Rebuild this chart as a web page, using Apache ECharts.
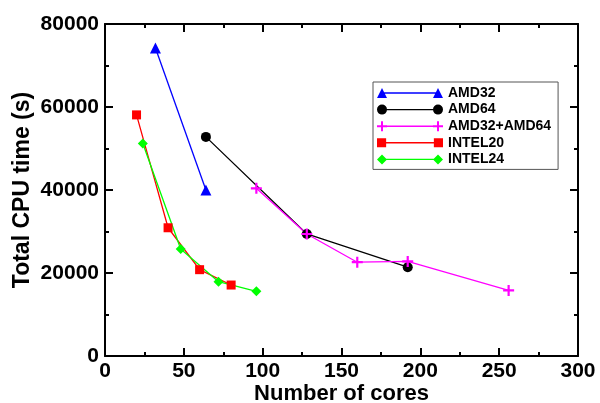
<!DOCTYPE html>
<html>
<head>
<meta charset="utf-8">
<script src="https://cdn.jsdelivr.net/npm/echarts@6/dist/echarts.min.js"></script>
<style>
  html, body { margin: 0; padding: 0; background: #fff; }
  #chart { width: 600px; height: 403px; }
</style>
</head>
<body>
<div id="chart"></div>
<script>
  // cores / total CPU time (s) per machine set
  const amd32Cores = [32, 64];
  const amd32Time = [74200, 40000];
  const amd64Cores = [64, 128, 192];
  const amd64Time = [52800, 29400, 21400];
  const mixCores = [96, 128, 160, 192, 256];
  const mixTime = [40400, 29400, 22600, 22800, 15800];
  const intel20Cores = [20, 40, 60, 80];
  const intel20Time = [58100, 30900, 20800, 17100];
  const intel24Cores = [24, 48, 72, 96];
  const intel24Time = [51200, 25800, 17900, 15600];

  const xTicks = [0, 50, 100, 150, 200, 250, 300];
  const yTicks = [0, 20000, 40000, 60000, 80000];

  const font = 'Liberation Sans, Arial, Helvetica, sans-serif';
  const pair = (xs, ys) => xs.map((x, i) => [x, ys[i]]);

  const plusPath = 'path://M4,0H6V4H10V6H6V10H4V6H0V4H4Z';
  const legendIcons = {
    tri: 'path://M0,10L5,0L10,10ZM5,4.3H61V5.7H5ZM56,10L61,0L66,10Z',
    circ: 'path://M0,5A5,5 0 1 1 10,5A5,5 0 1 1 0,5ZM5,4.3H61V5.7H5ZM56,5A5,5 0 1 1 66,5A5,5 0 1 1 56,5Z',
    plus: 'path://M4,0H6V4H10V6H6V10H4V6H0V4H4ZM5,4.3H61V5.7H5ZM60,0H62V4H66V6H62V10H60V6H56V4H60Z',
    sq: 'path://M0.5,0.5H9.5V9.5H0.5ZM5,4.3H61V5.7H5ZM56.5,0.5H65.5V9.5H56.5Z',
    dia: 'path://M0,5L5,0L10,5L5,10ZM5,4.3H61V5.7H5ZM56,5L61,0L66,5L61,10Z'
  };

  const tickStyle = { color: '#000', width: 2 };

  // major: labelled ticks every 50 / 20000; minor: short ticks every 25 / 10000
  function xAxisOf(pos, major) {
    const showLabel = major && pos === 'bottom';
    return {
      type: 'value', position: pos, min: 0, max: 300, interval: major ? 50 : 25,
      name: showLabel ? 'Number of cores' : '',
      nameLocation: 'middle', nameGap: 27, nameMoveOverlap: false,
      nameTextStyle: { fontFamily: font, fontWeight: 'bold', fontSize: 22, color: '#000' },
      axisLine: { show: major, onZero: false, lineStyle: { color: '#000', width: 2 } },
      axisTick: { show: true, inside: true, length: major ? 8 : 4, lineStyle: tickStyle },
      axisLabel: { show: showLabel, fontFamily: font, fontWeight: 'bold', fontSize: 21, color: '#000', margin: 5,
        formatter: v => xTicks.includes(v) ? String(v) : '' },
      splitLine: { show: false }
    };
  }

  function yAxisOf(pos, major) {
    const showLabel = major && pos === 'left';
    return {
      type: 'value', position: pos, min: 0, max: 80000, interval: major ? 20000 : 10000,
      name: showLabel ? 'Total CPU time (s)' : '',
      nameLocation: 'middle', nameGap: 71, nameRotate: 90, nameMoveOverlap: false,
      nameTextStyle: { fontFamily: font, fontWeight: 'bold', fontSize: 23, color: '#000' },
      axisLine: { show: major, onZero: false, lineStyle: { color: '#000', width: 2 } },
      axisTick: { show: true, inside: true, length: major ? 8 : 4, lineStyle: tickStyle },
      axisLabel: { show: showLabel, fontFamily: font, fontWeight: 'bold', fontSize: 21, color: '#000', margin: 6,
        formatter: v => yTicks.includes(v) ? String(v) : '' },
      splitLine: { show: false }
    };
  }

  function line(name, xs, ys, color, symbol, size) {
    return {
      name, type: 'line', data: pair(xs, ys),
      symbol, symbolSize: size, showSymbol: true,
      lineStyle: { color, width: 1.3 },
      itemStyle: { color, borderWidth: 0 },
      animation: false, z: 3
    };
  }

  const chart = echarts.init(document.getElementById('chart'));
  chart.setOption({
    animation: false,
    backgroundColor: '#fff',
    grid: { left: 105, right: 22, top: 24, bottom: 47, outerBoundsMode: 'none', containLabel: false },
    xAxis: [xAxisOf('bottom', true), xAxisOf('top', true), xAxisOf('bottom', false), xAxisOf('top', false)],
    yAxis: [yAxisOf('left', true), yAxisOf('right', true), yAxisOf('left', false), yAxisOf('right', false)],
    legend: {
      left: 373, top: 82, orient: 'vertical', align: 'left',
      itemWidth: 66, itemHeight: 10, itemGap: 2.6,
      padding: [4, 7, 3, 4],
      borderColor: '#555', borderWidth: 1,
      itemStyle: { borderWidth: 0 },
      textStyle: { fontFamily: font, fontWeight: 'bold', fontSize: 14, color: '#000', padding: [0, 0, 0, 0] },
      data: [
        { name: 'AMD32', icon: legendIcons.tri },
        { name: 'AMD64', icon: legendIcons.circ },
        { name: 'AMD32+AMD64', icon: legendIcons.plus },
        { name: 'INTEL20', icon: legendIcons.sq },
        { name: 'INTEL24', icon: legendIcons.dia }
      ]
    },
    series: [
      line('AMD32', amd32Cores, amd32Time, '#0000ff', 'triangle', 11),
      line('AMD64', amd64Cores, amd64Time, '#000000', 'circle', 10),
      line('AMD32+AMD64', mixCores, mixTime, '#ff00ff', plusPath, 11),
      line('INTEL20', intel20Cores, intel20Time, '#ff0000', 'rect', 9),
      line('INTEL24', intel24Cores, intel24Time, '#00ff00', 'diamond', 10)
    ]
  });
</script>
</body>
</html>
